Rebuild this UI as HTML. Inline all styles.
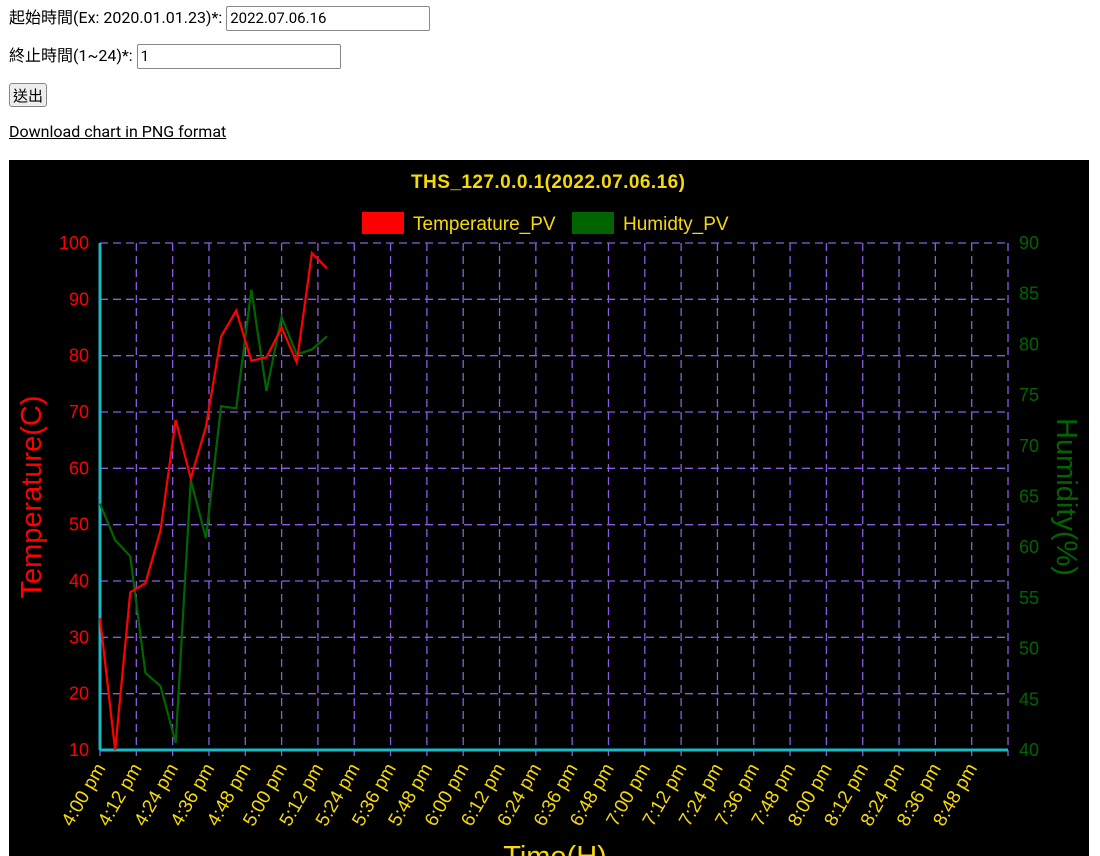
<!DOCTYPE html>
<html><head><meta charset="utf-8">
<style>
body{margin:0;width:1100px;height:856px;overflow:hidden;background:#fff;font-family:"Roboto","Liberation Sans","Noto Sans CJK TC",sans-serif;font-size:16px;color:#000}
.row{position:absolute;left:9px}
input{font-family:inherit;font-size:15px;border:1px solid #888;border-radius:2px;padding:1px 3px;height:21px;box-sizing:border-box}
button{font-family:inherit;font-size:15px;border:1px solid #888;border-radius:3px;background:#eee;padding:0 3px;height:24px}
a{color:#000}
</style></head><body>
<div class="row" style="top:4px">起始時間(Ex: 2020.01.01.23)*: <input style="width:204px;height:25px" value="2022.07.06.16"></div>
<div class="row" style="top:42px">終止時間(1~24)*: <input style="width:204px;height:25px" value="1"></div>
<div class="row" style="top:83px"><button>送出</button></div>
<div class="row" style="top:122px"><a href="#">Download chart in PNG format</a></div>
<svg id="chart" style="position:absolute;left:9px;top:160px" width="1080" height="696" font-family="'Liberation Sans',sans-serif"></svg>
<script>
const timeLabels=["4:00 pm","4:12 pm","4:24 pm","4:36 pm","4:48 pm","5:00 pm","5:12 pm","5:24 pm","5:36 pm","5:48 pm","6:00 pm","6:12 pm","6:24 pm","6:36 pm","6:48 pm","7:00 pm","7:12 pm","7:24 pm","7:36 pm","7:48 pm","8:00 pm","8:12 pm","8:24 pm","8:36 pm","8:48 pm"];
const sampleMinutes=[0,5,10,15,20,25,30,35,40,45,50,55,60,65,70,75];
const temperature=[33.4,10,38,39.6,49,68.6,58.2,67.4,83.4,88,79.1,79.7,85,78.8,98.2,95.5];
const humidity=[64.3,60.7,59.1,47.6,46.3,40.7,66.6,60.9,73.9,73.7,85.4,75.4,82.7,79,79.5,80.8];
const tempTicks=[10,20,30,40,50,60,70,80,90,100];
const humTicks=[40,45,50,55,60,65,70,75,80,85,90];

const svg=document.getElementById('chart');
const NS='http://www.w3.org/2000/svg';
const L=91,R=999,T=83,B=590;
const xS=m=>L+(m/300)*(R-L);
const yT=v=>B-(v-10)/90*(B-T);
const yH=v=>B-(v-40)/50*(B-T);
function mk(tag,attrs,text){const e=document.createElementNS(NS,tag);for(const k in attrs)e.setAttribute(k,attrs[k]);if(text!==undefined)e.textContent=text;svg.appendChild(e);return e;}

let bg=mk('rect',{x:0,y:0,width:1080,height:696,fill:'#000'});


let title=mk('text',{x:539,y:28,fill:'#f5d90a','font-size':19,'font-weight':'bold','text-anchor':'middle',textLength:274});
title.textContent='THS_127.0.0.1(2022.07.06.16)';


// legend
let lg1=mk('rect',{x:353,y:52,width:42,height:22,fill:'#ff0000'});


let lt1=mk('text',{x:404,y:70,fill:'#f5d90a','font-size':19},'Temperature_PV');


let lg2=mk('rect',{x:563,y:52,width:42,height:22,fill:'#006400'});


let lt2=mk('text',{x:614,y:70,fill:'#f5d90a','font-size':19},'Humidty_PV');



// horizontal grid
tempTicks.forEach(v=>{
  let g=mk('line',{x1:L,x2:R,y1:yT(v),y2:yT(v),stroke:'#8a5ce6','stroke-width':1.3,'stroke-dasharray':'8,5'});
  
  
  let t=mk('text',{x:L-11,y:yT(v)+6,fill:'#ff0000','font-size':18,'text-anchor':'end'},v);
  
  
});
humTicks.forEach(v=>{
  let t=mk('text',{x:R+11,y:yH(v)+6,fill:'#006400','font-size':18},v);
  
  
});
// vertical grid + x labels
for(let i=0;i<=25;i++){
  const x=xS(i*12);
  let g=mk('line',{x1:x,x2:x,y1:T,y2:B+6,stroke:'#8a5ce6','stroke-width':1.3,'stroke-dasharray':'8,5'});
  
  
  if(i<timeLabels.length){
    let t=mk('text',{x:x+6,y:B+18,fill:'#f5d90a','font-size':19,'text-anchor':'end',transform:`rotate(-60 ${x+6} ${B+18})`},timeLabels[i]);
    
    
  }
}
// axes
let ax1=mk('line',{x1:L,x2:L,y1:T,y2:B,stroke:'#1ab8c4','stroke-width':3});


let ax2=mk('line',{x1:L,x2:R,y1:B,y2:B,stroke:'#1ab8c4','stroke-width':3});



// series
let hp=mk('polyline',{points:humidity.map((v,i)=>xS(sampleMinutes[i])+','+yH(v)).join(' '),fill:'none',stroke:'#006400','stroke-width':2.2});


let tp=mk('polyline',{points:temperature.map((v,i)=>xS(sampleMinutes[i])+','+yT(v)).join(' '),fill:'none',stroke:'#ff0000','stroke-width':2.2});



// axis titles
let yt=mk('text',{x:32,y:337,fill:'#ff0000','font-size':29,'text-anchor':'middle',transform:'rotate(-90 32 337)'},'Temperature(C)');


let yt2=mk('text',{x:1048,y:337,fill:'#006400','font-size':29,'text-anchor':'middle',transform:'rotate(90 1048 337)'},'Humidity(%)');


let xt=mk('text',{x:546,y:706,fill:'#f5d90a','font-size':29,'text-anchor':'middle'},'Time(H)');


</script>
</body></html>
